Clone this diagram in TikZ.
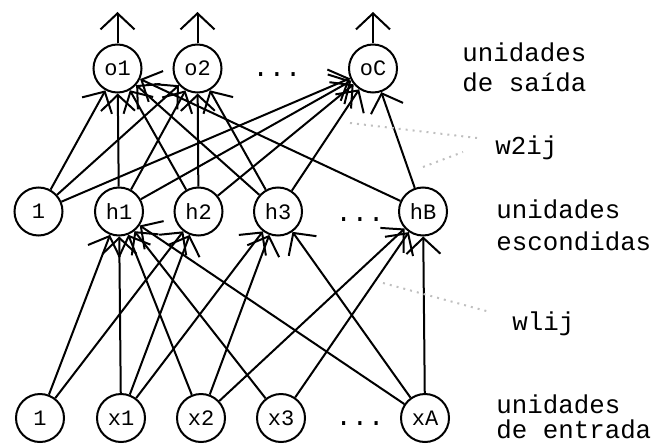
\documentclass[tikz,border=0pt]{standalone}
\usepackage{fontspec}
\setmainfont{Liberation Mono}
\usetikzlibrary{arrows.meta}
\begin{document}
\begin{tikzpicture}[x=0.5pt,y=-0.5pt,
  unit/.style={circle,draw,line width=1pt,minimum size=24pt,inner sep=0pt,
    font=\fontsize{11}{13}\selectfont},
  link/.style={line width=1pt,-{Straight Barb[length=8pt,width=17pt]}},
  lbl/.style={anchor=base west,inner sep=0pt,font=\fontsize{12.9}{15}\selectfont},
  dots/.style={anchor=base,inner sep=0pt,font=\fontsize{13.5}{16}\selectfont},
  guide/.style={gray!50,line width=1pt,dash pattern=on 1pt off 2.5pt}]
\useasboundingbox (0,0) rectangle (656,443);

% output layer
\node[unit] (o1) at (117.5,68.5) {o1};
\node[unit] (o2) at (197.5,68.5) {o2};
\node[unit] (oC) at (373,68.5) {oC};
\node[dots] (odots) at (277,77) {...};

% hidden layer
\node[unit] (b1) at (38.5,211.5) {1};
\node[unit] (h1) at (119,211.5) {h1};
\node[unit] (h2) at (198.5,211.5) {h2};
\node[unit] (h3) at (278,211.5) {h3};
\node[unit] (hB) at (423,211.5) {hB};
\node[dots] (hdots) at (360,221) {...};

% input layer
\node[unit] (b0) at (40,418) {1};
\node[unit] (x1) at (121,418) {x1};
\node[unit] (x2) at (201,418) {x2};
\node[unit] (x3) at (281,418) {x3};
\node[unit] (xA) at (425,418) {xA};
\node[dots] (idots) at (360,425) {...};

% outputs leave the network
\coordinate (u1) at (117.5,12);
\coordinate (u2) at (197.5,12);
\coordinate (uC) at (373,12);
\draw[link] (o1) -- (u1);
\draw[link] (o2) -- (u2);
\draw[link] (oC) -- (uC);

% hidden -> output weights
\foreach \s in {b1,h1,h2,h3,hB} \draw[link] (\s) -- (o1);
\foreach \s in {b1,h1,h2,h3} \draw[link] (\s) -- (o2);
\foreach \s in {b1,h1,h2,h3,hB} \draw[link] (\s) -- (oC);

% input -> hidden weights
\foreach \t in {h1,h2} \draw[link] (b0) -- (\t);
\foreach \t in {h1,h2,h3} \draw[link] (x1) -- (\t);
\foreach \t in {h1,h3,hB} \draw[link] (x2) -- (\t);
\foreach \t in {h1,hB} \draw[link] (x3) -- (\t);
\foreach \t in {h1,h3,hB} \draw[link] (xA) -- (\t);

% weight labels with their pointers
\coordinate (g1a) at (350,123);
\coordinate (g1b) at (477,138);
\coordinate (g2a) at (423,167);
\coordinate (g2b) at (463,152);
\coordinate (g3a) at (383,283);
\coordinate (g3b) at (490,312);
\draw[guide] (g1a) -- (g1b);
\draw[guide] (g2a) -- (g2b);
\draw[guide] (g3a) -- (g3b);

\node[lbl] (w2) at (495,155) {w2ij};
\node[lbl] (w1) at (512,330) {wlij};

% layer captions
\node[lbl] (capOa) at (462,62) {unidades};
\node[lbl] (capOb) at (462,92) {de saída};
\node[lbl] (capHa) at (496,218) {unidades};
\node[lbl] (capHb) at (496,250) {escondidas};
\node[lbl] (capIa) at (496,413) {unidades};
\node[lbl] (capIb) at (496,438) {de entrada};
\end{tikzpicture}
\end{document}
